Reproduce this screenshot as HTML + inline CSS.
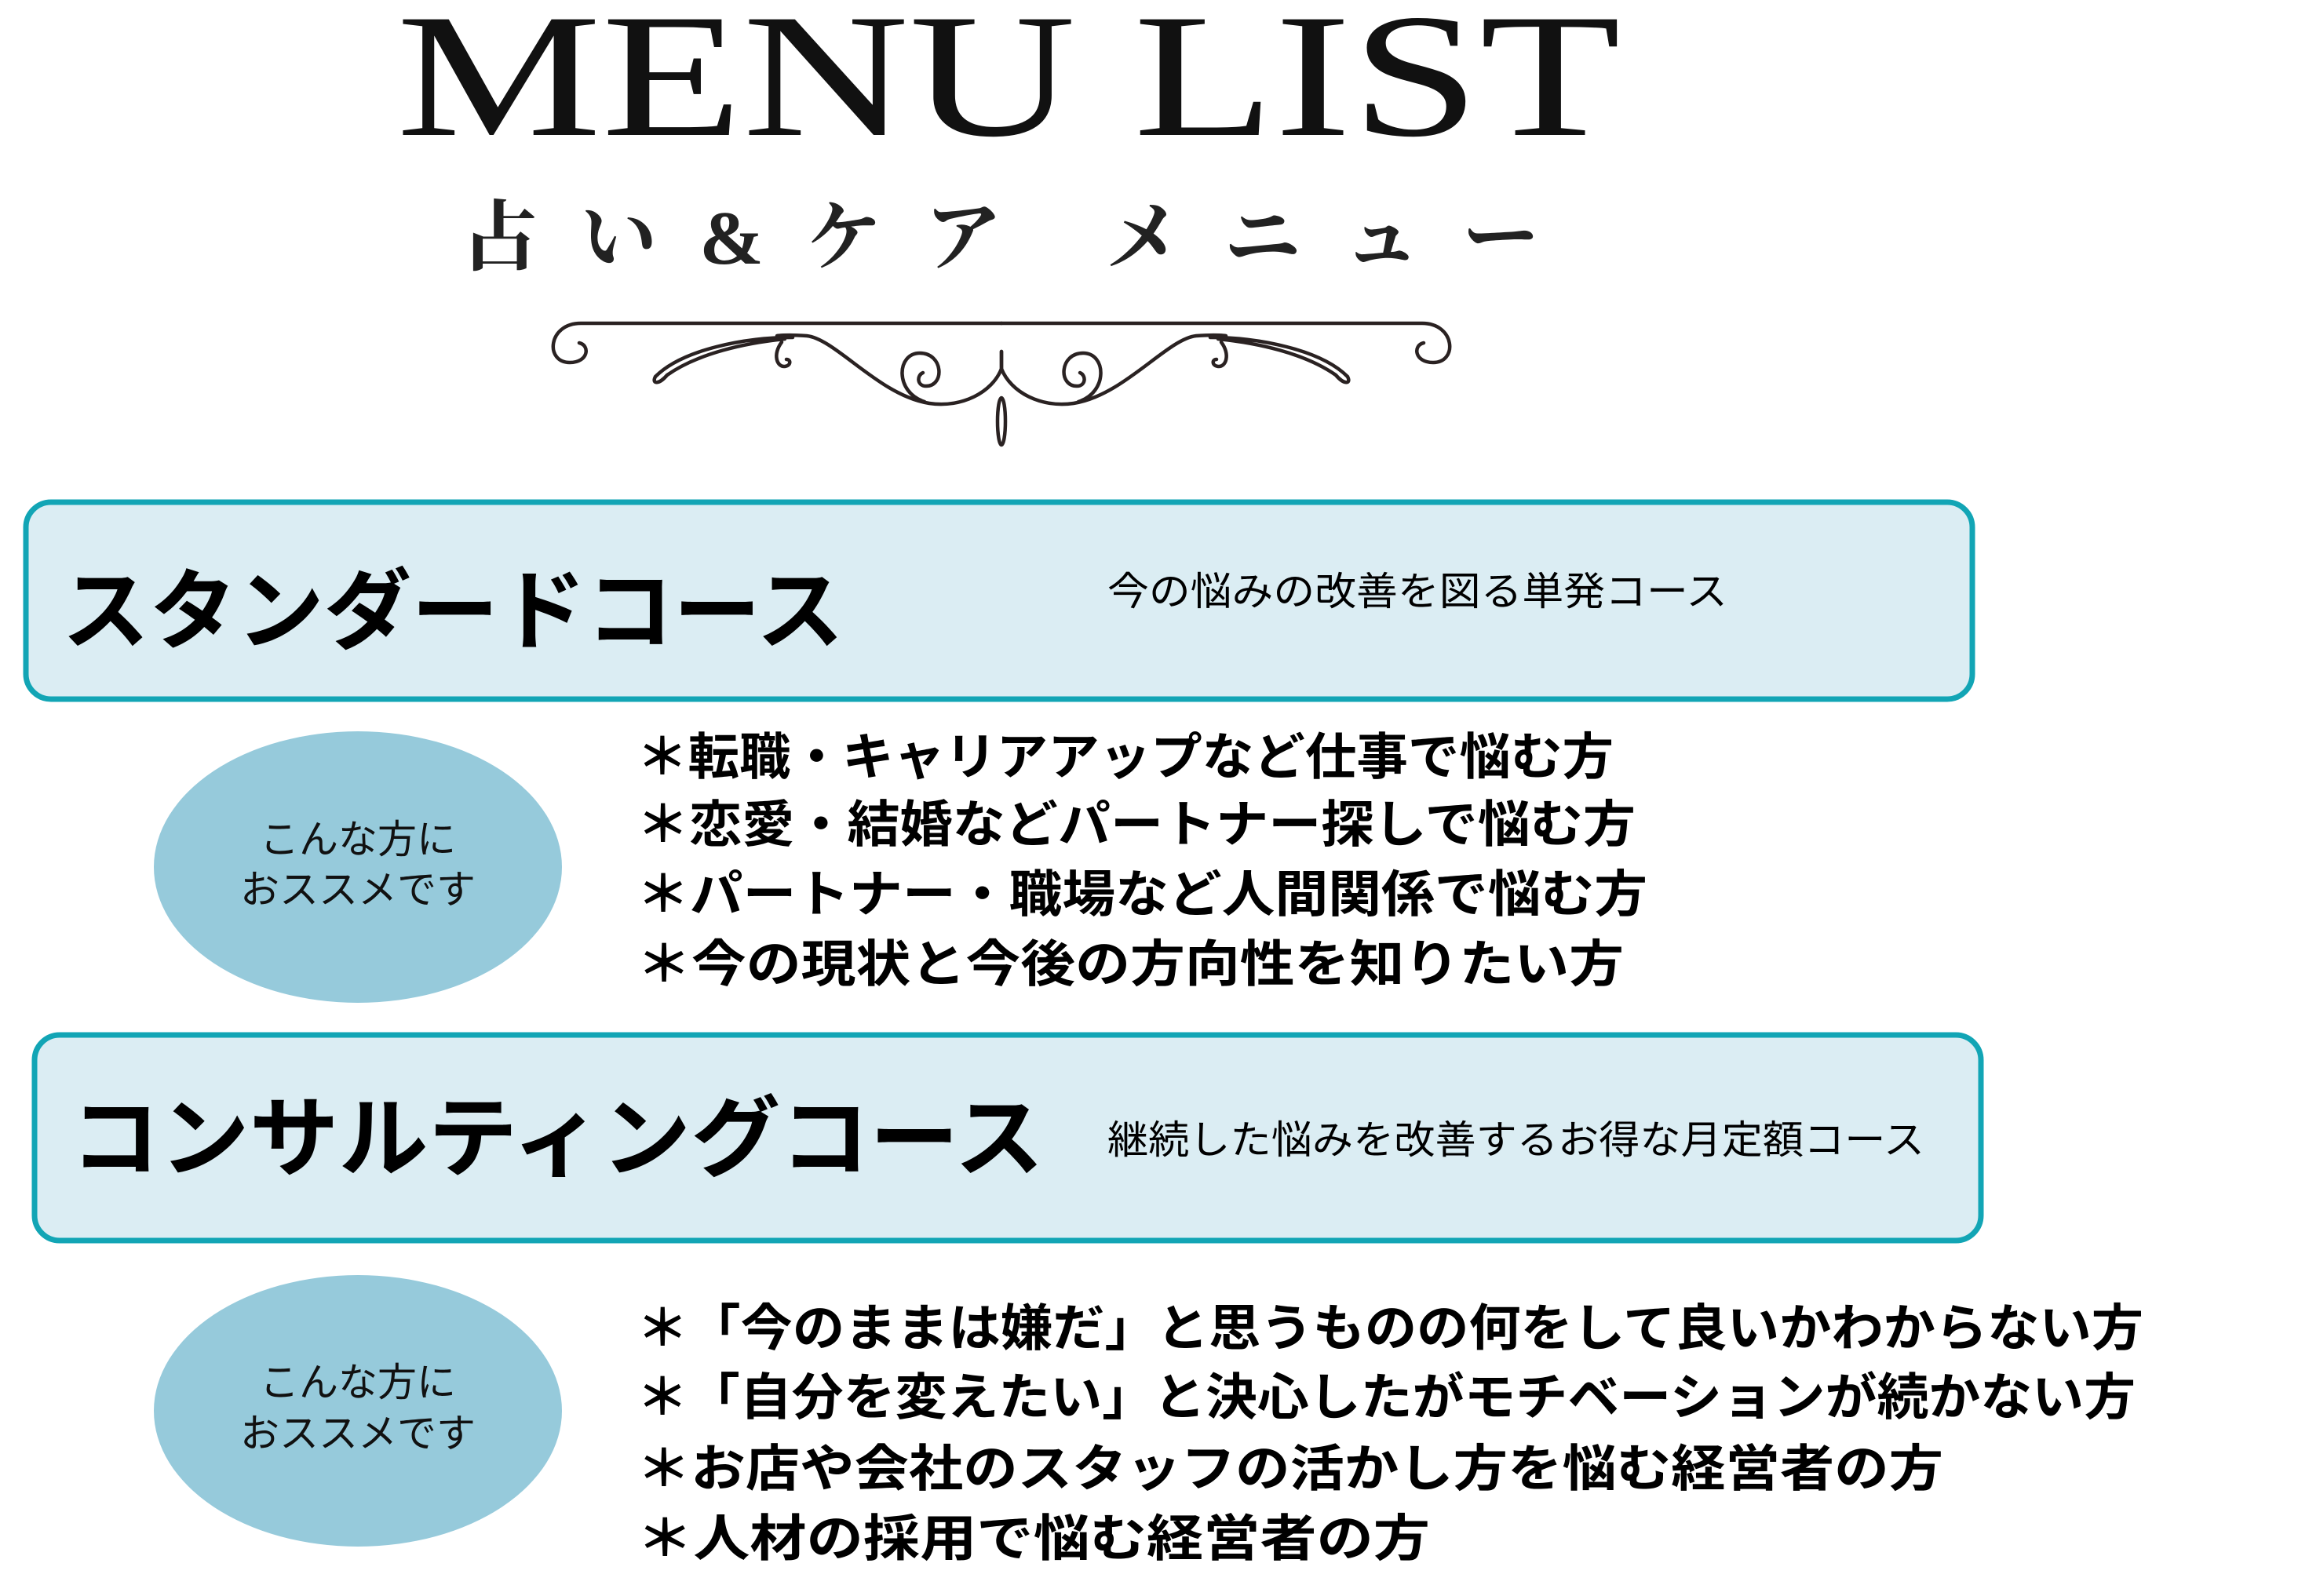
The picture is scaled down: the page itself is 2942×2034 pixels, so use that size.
<!DOCTYPE html>
<html><head><meta charset="utf-8"><style>
html,body{margin:0;padding:0;background:#fff;}
svg{display:block;}
</style></head><body>
<svg width="2942" height="2034" viewBox="0 0 2942 2034" xmlns="http://www.w3.org/2000/svg">
<rect width="2942" height="2034" fill="#fff"/>
<text x="505" y="172" font-family="Liberation Serif, serif" font-size="225" textLength="1560" lengthAdjust="spacingAndGlyphs" fill="#111">MENU LIST</text>
<text x="588" y="336" font-family="Liberation Serif, 'Noto Serif CJK SC', serif" font-size="98" font-weight="bold" textLength="1373" lengthAdjust="spacing" fill="#222">占い&amp;ケア メニュー</text>
<g fill="none" stroke="#2a2222" stroke-width="4.5" stroke-linecap="round">
 <g id="half">
  <path d="M1276 412 L740 412 C698 412 694 462 726 462 C750 462 752 440 738 437"/>
  <path d="M1276 448 L1276 470 C1264 500 1226 520 1184 514 C1120 504 1065 432 1028 428 C1000 426 990 428 990 428"/>
  <path d="M1178 512 C1140 500 1142 450 1172 450 C1202 450 1204 492 1180 492 C1168 492 1168 478 1176 475"/>
  <path d="M1010 430 C950 430 870 445 835 480 C830 490 840 490 850 478 C890 450 950 437 1000 432"/>
  <path d="M996 436 C984 452 990 468 1000 467 C1008 466 1008 458 1002 458"/>
 </g>
 <use href="#half" transform="translate(2552,0) scale(-1,1)"/>
 <ellipse cx="1276" cy="537" rx="5" ry="30"/>
</g>

<rect x="33" y="640" width="2480" height="251" rx="32" fill="#dbedf3" stroke="#12a5b5" stroke-width="7"/>
<text x="79" y="818" font-family="Liberation Sans, 'Noto Sans CJK JP', sans-serif" font-size="112" font-weight="bold" textLength="996" lengthAdjust="spacingAndGlyphs" fill="#000">スタンダードコース</text>
<text x="1411" y="771" font-family="Liberation Sans, 'Noto Sans CJK JP', sans-serif" font-size="50" textLength="790" lengthAdjust="spacingAndGlyphs" fill="#000">今の悩みの改善を図る単発コース</text>

<ellipse cx="456" cy="1105" rx="260" ry="173" fill="#96cadb"/>
<g font-family="Liberation Sans, 'Noto Sans CJK JP', sans-serif" font-size="50" fill="#111" text-anchor="middle">
<text x="456" y="1087">こんな方に</text>
<text x="456" y="1151">おススメです</text>
</g>
<g font-family="Liberation Sans, 'Noto Sans CJK JP', sans-serif" font-size="64" font-weight="bold" fill="#000">
<text x="811" y="987" textLength="1245" lengthAdjust="spacingAndGlyphs">＊転職・キャリアアップなど仕事で悩む方</text>
<text x="811" y="1073" textLength="1273" lengthAdjust="spacingAndGlyphs">＊恋愛・結婚などパートナー探しで悩む方</text>
<text x="811" y="1162" textLength="1288" lengthAdjust="spacingAndGlyphs">＊パートナー・職場など人間関係で悩む方</text>
<text x="811" y="1251" textLength="1258" lengthAdjust="spacingAndGlyphs">＊今の現状と今後の方向性を知りたい方</text>
</g>

<rect x="44" y="1319" width="2480" height="262" rx="32" fill="#dbedf3" stroke="#12a5b5" stroke-width="7"/>
<text x="90" y="1490" font-family="Liberation Sans, 'Noto Sans CJK JP', sans-serif" font-size="112" font-weight="bold" textLength="1240" lengthAdjust="spacingAndGlyphs" fill="#000">コンサルティングコース</text>
<text x="1411" y="1470" font-family="Liberation Sans, 'Noto Sans CJK JP', sans-serif" font-size="50" textLength="1041" lengthAdjust="spacingAndGlyphs" fill="#000">継続した悩みを改善するお得な月定額コース</text>

<ellipse cx="456" cy="1798" rx="260" ry="173" fill="#96cadb"/>
<g font-family="Liberation Sans, 'Noto Sans CJK JP', sans-serif" font-size="50" fill="#111" text-anchor="middle">
<text x="456" y="1779">こんな方に</text>
<text x="456" y="1844">おススメです</text>
</g>
<g font-family="Liberation Sans, 'Noto Sans CJK JP', sans-serif" font-size="64" font-weight="bold" fill="#000">
<text x="811" y="1715" textLength="1920" lengthAdjust="spacingAndGlyphs">＊「今のままは嫌だ」と思うものの何をして良いかわからない方</text>
<text x="811" y="1803" textLength="1910" lengthAdjust="spacingAndGlyphs">＊「自分を変えたい」と決心したがモチベーションが続かない方</text>
<text x="811" y="1894" textLength="1665" lengthAdjust="spacingAndGlyphs">＊お店や会社のスタッフの活かし方を悩む経営者の方</text>
<text x="811" y="1983" textLength="1011" lengthAdjust="spacingAndGlyphs">＊人材の採用で悩む経営者の方</text>
</g>
</svg>
</body></html>
